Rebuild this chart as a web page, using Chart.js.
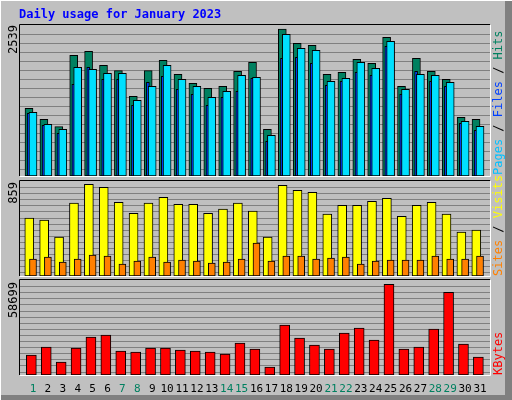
<!DOCTYPE html>
<html><head><meta charset="utf-8">
<script src="https://cdn.jsdelivr.net/npm/chart.js@4"></script>
<style>
html,body{margin:0;padding:0;background:#c0c0c0;}
#wrap{position:relative;width:512px;height:400px;}
canvas{position:absolute;left:0;top:0;}
</style></head><body>
<div id="wrap">
<canvas id="c1" width="512" height="400"></canvas>
<canvas id="c2" width="512" height="400"></canvas>
<canvas id="c3" width="512" height="400"></canvas>
</div>
<script>
const days = [1,2,3,4,5,6,7,8,9,10,11,12,13,14,15,16,17,18,19,20,21,22,23,24,25,26,27,28,29,30,31];
const weekendDays = [1,7,8,14,15,21,22,28,29];
const hits  = [1169,979,852,2085,2154,1912,1819,1376,1819,1998,1756,1601,1515,1549,1808,1964,807,2539,2292,2257,1756,1791,2016,1946,2396,1549,2033,1808,1670,1014,979];
const files = [1100,893,807,1877,1843,1774,1774,1307,1549,1912,1670,1549,1359,1463,1739,1705,703,2447,2206,2171,1636,1687,1964,1860,2327,1497,1756,1739,1618,945,858];
const pages = [1083,876,737,1584,1877,1670,1670,1221,1618,1722,1497,1411,1221,1359,1463,1687,599,2033,2050,1946,1567,1636,1791,1739,2240,1411,1808,1636,1549,910,789];
const visits= [542,523,364,682,859,831,691,588,682,738,672,672,588,626,682,607,364,850,803,784,579,663,663,700,728,560,663,691,579,411,430];
const sites = [159,177,131,159,196,187,112,140,177,131,149,140,121,131,159,308,140,187,187,159,168,177,112,140,149,149,149,187,159,159,187];
const kbytes= [12901,18061,8386,17416,24512,25802,15481,14836,17416,17416,16126,15481,14836,13546,20642,16771,5160,32252,23867,19351,16771,27092,30317,22577,58699,16771,18061,29672,53539,19996,11611];
const titleText = "Daily usage for January 2023";
const topMax = 2539, midMax = 859, botMax = 58699;

const MONO = "'DejaVu Sans Mono', monospace";
const pts = (arr, off) => arr.map((v,i)=>({x:days[i]+off, y:v}));
function ds(arr, off, color, w, order){
  return {data:pts(arr,off), backgroundColor:color, borderColor:'#000', borderWidth:1,
    borderSkipped:false, barThickness:w, order:order, grouped:false};
}
function gridPlugin(stepPx){
  return {id:'grid', beforeDatasetsDraw(ch){
    const a=ch.chartArea, c=ch.ctx, y=ch.scales.y;
    const per=(y.max-y.min)/(a.bottom-a.top);
    c.save(); c.strokeStyle='#808080'; c.lineWidth=1;
    for(let v=y.max-stepPx*per; v>y.min+per*2; v-=stepPx*per){
      const py=Math.round(y.getPixelForValue(v))+0.5;
      c.beginPath(); c.moveTo(a.left,py); c.lineTo(a.right,py); c.stroke();
    }
    c.strokeStyle='#000';
    c.beginPath(); c.moveTo(a.left-0.5,a.bottom); c.lineTo(a.left-0.5,a.top-0.5); c.lineTo(a.right,a.top-0.5); c.stroke();
    c.strokeStyle='#fff';
    c.beginPath(); c.moveTo(a.right+0.5,a.top); c.lineTo(a.right+0.5,a.bottom+0.5); c.lineTo(a.left,a.bottom+0.5); c.stroke();
    c.restore();
  }};
}
function rotText(c, parts, x, yBottom){
  c.save(); c.translate(x,yBottom); c.rotate(-Math.PI/2);
  c.font='12px '+MONO; c.textBaseline='middle'; c.textAlign='left';
  let px=0;
  for(const [t,col] of parts){ c.fillStyle=col; c.fillText(t,px,0); px+=c.measureText(t).width; }
  c.restore();
}
function labelPlugin(maxLabel, topY, rightParts, rightBottom, extra){
  return {id:'lbl', afterDraw(ch){
    const c=ch.ctx;
    c.save(); c.translate(14, topY); c.rotate(-Math.PI/2);
    c.font='12px '+MONO; c.fillStyle='#000'; c.textAlign='right'; c.textBaseline='middle';
    c.fillText(String(maxLabel),0,0); c.restore();
    rotText(c, rightParts, 499, rightBottom);
    if(extra) extra(ch);
  }};
}
function mk(id, top, bottom, max, datasets, plugins){
  return new Chart(document.getElementById(id), {
    type:'bar', data:{datasets},
    options:{responsive:false, animation:false, devicePixelRatio:1,
      layout:{padding:{left:20,right:22,top:top,bottom:400-bottom}},
      plugins:{legend:{display:false},tooltip:{enabled:false}},
      scales:{x:{type:'linear',min:0.128,max:31.67,offset:false,display:false},
              y:{min:0,max:max,display:false}}},
    plugins});
}
const bg = {id:'bg', beforeDraw(ch){
  const c=ch.ctx; c.save();
  c.fillStyle='#c0c0c0'; c.fillRect(0,0,512,400);
  c.fillStyle='#808080'; c.fillRect(505,0,7,400); c.fillRect(0,395,512,5);
  c.fillStyle='#fff'; c.fillRect(0,0,512,1); c.fillRect(0,0,1,400);
  c.fillStyle='#0000ff'; c.font='bold 12px '+MONO; c.textBaseline='alphabetic';
  c.fillText(titleText,19,18);
  c.restore();
}};
mk('c1',25,176, topMax*151/147,
  [ds(hits,-0.268,'#008060',8,3), ds(pages,-0.29,'#0040ff',3,2), ds(files,0,'#00e0ff',8,1)],
  [bg, gridPlugin(9), labelPlugin(topMax,25,[['Pages','#00c0ff'],[' / ','#000'],['Files','#0040ff'],[' / ','#000'],['Hits','#008060']],175)]);
mk('c2',181,276, midMax*95.3/92,
  [ds(visits,-0.25,'#ffff00',9,2), ds(sites,0,'#ff8000',7,1)],
  [gridPlugin(6.1), labelPlugin(midMax,182,[['Sites','#ff8000'],[' / ','#000'],['Visits','#ffff00']],276)]);
mk('c3',280,375, botMax*95.3/91,
  [ds(kbytes,-0.11,'#ff0000',10,1)],
  [gridPlugin(6.1), labelPlugin(botMax,282,[['KBytes','#ff0000']],375, ch=>{
    const c=ch.ctx, x=ch.scales.x; c.save(); c.font='11px '+MONO; c.textAlign='center'; c.textBaseline='middle';
    days.forEach(d=>{ c.fillStyle=weekendDays.includes(d)?'#008060':'#000'; c.fillText(String(d), x.getPixelForValue(d), 389); });
    c.restore();
  })]);
</script></body></html>
